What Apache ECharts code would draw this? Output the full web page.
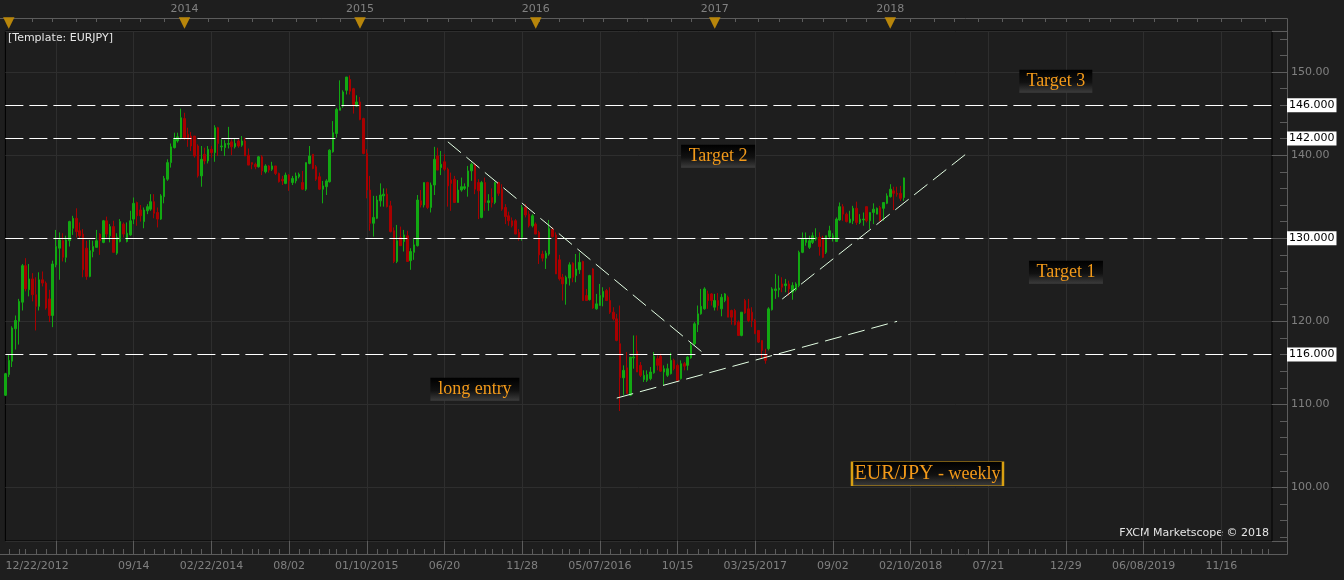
<!DOCTYPE html>
<html><head><meta charset="utf-8">
<script src="https://cdn.jsdelivr.net/npm/echarts@6/dist/echarts.min.js"></script>
<style>html,body{margin:0;padding:0;background:#1e1e1e;}#c{width:1344px;height:580px;}</style>
</head><body><div id="c"></div>
<script>
// ---------- data ----------
const startDate = [2012, 12, 22];   // first weekly bar
const weekCount = 376;              // weeks on the category axis
// weekly candles [open, high, low, close]
const candles = [
[111.1,113.8,111.0,113.7],[113.6,116.0,113.3,115.3],[115.2,119.4,114.5,119.2],[119.1,120.7,116.6,120.1],
[120.0,122.7,117.2,122.4],[122.3,126.9,121.3,126.7],[126.7,127.6,123.6,123.9],[123.8,126.9,123.0,125.1],
[125.1,125.8,122.4,123.2],[123.2,125.3,118.9,121.8],[121.8,125.9,121.3,125.0],[125.0,126.0,124.2,124.6],
[124.6,124.8,121.4,121.6],[122.7,123.8,119.9,120.7],[120.7,127.3,119.3,126.9],[126.8,131.0,126.5,129.0],
[128.8,130.7,125.0,129.8],[129.7,130.6,127.2,127.7],[127.7,130.3,127.1,129.8],[129.7,132.1,129.0,132.0],
[131.2,132.7,130.4,132.4],[132.4,133.6,130.1,130.8],[130.9,131.9,129.9,130.3],[130.5,131.1,125.3,126.2],
[128.8,129.7,125.0,125.4],[125.4,129.8,125.3,128.5],[128.4,129.7,127.7,129.0],[128.9,131.0,128.9,129.7],
[130.5,130.6,128.0,129.7],[129.5,132.2,129.4,132.1],[132.1,132.6,130.1,130.5],[130.3,131.7,129.5,131.4],
[131.4,132.1,128.3,128.3],[128.2,130.6,128.0,130.1],[129.6,132.3,129.5,132.0],[131.7,131.9,130.1,130.5],
[129.6,131.9,129.5,130.6],[130.4,133.3,130.3,132.1],[132.3,134.9,131.7,134.2],[134.3,134.4,131.5,132.7],
[133.4,134.0,132.0,132.7],[132.0,133.7,131.2,133.4],[133.3,134.1,132.9,133.8],[133.5,135.3,133.3,134.4],
[134.4,135.3,132.4,133.0],[133.1,133.7,131.3,132.3],[132.3,135.3,132.2,135.1],[135.0,137.5,134.2,137.2],
[137.1,139.5,136.9,139.1],[139.1,141.4,138.5,141.0],[140.9,142.7,140.8,141.9],[141.7,142.7,141.5,142.2],
[142.1,145.6,141.9,144.5],[144.4,145.1,141.8,142.1],[142.5,143.3,141.0,141.9],[142.3,142.8,140.5,141.1],
[142.3,142.3,139.7,139.9],[141.1,141.3,137.3,137.5],[137.5,141.1,136.2,139.5],[140.1,140.9,138.9,139.3],
[139.3,141.1,139.0,140.7],[140.7,141.1,139.7,140.3],[140.3,143.6,139.2,143.3],[143.3,143.4,139.9,141.4],
[141.0,141.9,140.5,141.1],[140.9,141.8,139.9,141.4],[141.3,143.4,140.8,141.4],[141.6,141.9,140.0,141.0],
[141.0,142.0,140.8,141.4],[141.7,141.9,140.9,141.1],[141.2,142.3,141.0,141.7],[141.7,142.1,139.9,139.9],
[140.0,140.8,138.8,138.8],[139.1,139.1,138.3,138.9],[138.9,139.1,138.3,138.6],[138.6,139.9,138.5,139.8],
[139.8,140.0,137.6,138.1],[138.0,138.9,137.8,138.7],[138.7,138.8,137.9,138.2],[138.3,139.2,138.1,138.7],
[138.7,138.7,137.6,137.8],[137.8,137.9,136.7,136.8],[137.1,137.5,136.4,136.9],[136.6,137.9,136.5,137.6],
[137.6,137.7,135.7,136.9],[136.7,137.5,136.4,137.2],[136.9,137.9,136.6,137.5],[137.4,137.9,137.2,137.7],
[136.7,138.1,135.8,135.9],[135.9,139.1,135.7,139.1],[139.0,141.1,138.9,139.9],[140.1,140.1,138.3,138.4],
[138.6,138.8,136.9,137.1],[137.4,137.9,135.8,135.9],[135.9,136.9,134.2,136.3],[136.2,137.1,135.2,136.9],
[136.8,140.7,136.7,140.6],[140.4,144.1,140.3,142.7],[142.6,145.7,142.1,145.5],[145.4,149.0,145.4,145.7],
[145.9,147.8,145.7,147.6],[147.8,149.4,147.3,149.4],[149.1,149.6,147.3,147.7],[148.0,148.1,145.0,146.1],
[145.9,147.2,145.8,146.4],[146.4,147.0,144.2,144.3],[144.4,144.5,140.1,140.2],[140.2,140.7,134.8,135.8],
[135.8,137.5,130.9,131.8],[131.8,135.1,130.2,132.5],[132.4,135.1,132.3,134.6],[134.5,136.6,133.8,135.2],
[135.1,136.0,133.8,135.3],[135.3,136.0,133.7,133.8],[133.9,134.5,130.7,130.8],[130.9,131.3,127.0,127.2],
[127.2,131.6,127.0,129.7],[130.1,131.4,129.1,129.1],[129.6,131.0,128.4,130.4],[130.3,130.9,127.2,127.2],
[127.3,128.8,126.2,128.4],[128.3,129.9,127.4,129.2],[129.1,135.2,129.0,134.6],[134.5,135.8,133.7,134.0],
[134.0,136.7,133.7,136.7],[136.7,136.8,133.5,133.7],[133.7,136.7,133.1,136.4],[136.4,141.0,135.2,139.5],
[139.9,140.9,138.2,138.2],[138.5,140.5,137.6,138.9],[139.2,140.1,138.1,138.3],[138.3,138.5,133.8,136.3],
[137.0,137.9,133.3,136.6],[137.1,137.5,134.3,134.3],[134.3,137.0,134.3,135.8],[135.8,137.3,135.6,136.2],
[136.0,136.6,135.8,136.2],[136.2,138.7,135.0,138.1],[138.1,139.1,136.9,138.9],[138.8,139.0,135.3,135.9],
[136.7,137.1,132.3,135.7],[132.5,136.9,132.4,136.7],[136.7,137.3,133.3,134.3],[134.3,135.3,133.3,134.5],
[134.9,136.0,133.7,134.3],[134.3,136.8,134.1,136.7],[136.7,136.8,135.1,135.4],[135.9,136.5,133.3,133.5],
[133.7,134.1,131.7,132.6],[132.7,133.2,131.5,132.1],[132.1,132.5,131.3,131.5],[132.1,132.3,130.5,130.5],
[130.7,131.1,129.7,130.1],[130.1,134.0,129.7,133.7],[133.7,134.1,132.5,132.8],[132.9,133.3,131.3,131.5],
[131.5,132.9,131.3,132.7],[131.7,131.9,130.5,130.5],[130.7,130.9,126.9,128.0],[128.1,128.5,127.2,127.6],
[127.6,128.5,126.3,128.2],[128.1,132.2,127.9,131.2],[131.1,131.3,130.1,130.2],[130.4,130.7,125.7,125.7],
[127.4,128.0,124.9,125.1],[125.3,125.7,122.5,124.5],[124.5,125.5,122.0,125.3],[125.2,127.1,124.3,126.8],
[127.0,127.1,124.7,125.3],[125.5,128.1,124.7,126.3],[126.2,128.3,125.7,127.1],[127.2,127.3,122.5,122.5],
[123.1,123.9,122.5,122.5],[122.6,125.6,122.5,125.5],[126.3,126.4,121.5,121.6],[121.5,123.3,121.4,122.1],
[121.9,124.5,121.9,123.1],[122.9,124.1,121.8,123.6],[123.7,123.9,122.5,122.5],[122.5,124.1,120.9,121.1],
[121.1,121.7,120.1,120.3],[120.3,120.9,117.6,117.7],[117.3,121.9,109.2,113.2],[113.2,114.7,111.1,114.1],
[114.4,116.3,111.3,111.3],[111.1,115.7,111.0,115.7],[115.6,118.3,114.3,115.7],[116.4,118.3,113.9,113.9],
[114.7,115.1,113.3,113.5],[113.0,114.1,112.7,113.5],[112.9,114.1,112.7,113.6],[113.1,114.5,112.9,113.9],
[113.8,116.3,113.7,115.8],[115.5,115.9,114.1,114.7],[115.8,116.1,113.9,114.0],[113.9,114.7,112.3,114.3],
[113.5,114.9,113.3,114.3],[113.7,116.2,113.6,115.3],[115.3,115.5,114.1,114.3],[114.7,114.9,112.8,112.9],
[113.1,115.3,113.0,114.9],[114.9,115.1,114.1,114.6],[114.7,115.8,114.1,115.7],[115.6,117.4,115.5,117.1],
[117.3,119.9,117.1,119.7],[119.6,121.9,118.7,120.9],[120.9,123.9,120.8,121.8],[121.5,124.1,121.4,123.9],
[123.3,123.7,121.5,122.5],[123.3,123.4,121.9,122.5],[121.7,123.3,121.3,122.5],[122.5,123.4,121.3,121.9],
[121.5,123.3,120.6,122.9],[122.5,123.4,122.3,123.3],[122.9,123.1,120.5,120.5],[121.3,121.4,119.6,120.5],
[121.3,121.5,119.5,119.6],[119.9,120.1,118.3,118.3],[118.3,121.1,118.2,121.1],[122.5,122.7,120.9,121.0],
[121.5,122.7,119.9,120.1],[121.1,121.7,119.3,120.1],[120.1,120.3,118.5,118.5],[118.9,118.9,117.4,117.5],
[117.7,117.7,115.5,116.5],[115.9,116.7,114.9,115.3],[116.7,121.7,116.5,121.5],[121.4,124.1,121.3,123.9],
[123.7,125.7,122.7,123.9],[123.8,125.5,122.9,124.0],[124.5,125.3,123.5,124.1],[124.3,125.1,123.5,124.5],
[124.5,124.9,123.1,123.9],[123.5,124.7,122.6,124.3],[123.8,124.7,123.6,124.5],[124.3,128.5,124.1,128.3],
[128.3,130.7,128.2,129.9],[129.5,130.7,129.1,129.9],[128.9,130.3,128.7,129.7],[129.5,130.7,129.3,130.3],
[129.9,131.2,129.7,130.1],[130.1,130.7,127.9,129.0],[129.9,130.3,127.6,127.7],[128.3,130.3,128.1,130.3],
[130.2,131.5,129.9,130.9],[130.0,130.6,129.6,130.3],[129.6,132.5,129.6,132.3],[132.2,134.3,132.1,133.8],
[133.8,134.1,132.1,132.9],[132.9,133.1,131.9,132.0],[131.9,133.3,131.8,132.3],[132.1,133.9,131.7,133.6],
[133.6,134.4,131.6,131.9],[131.9,132.9,131.7,132.3],[132.2,133.1,131.5,132.3],[133.8,133.8,131.9,132.1],
[132.1,133.1,131.1,133.1],[133.1,134.2,131.7,133.5],[132.9,133.7,132.9,133.6],[133.7,133.9,132.1,132.1],
[133.6,134.3,132.1,134.3],[134.2,135.4,134.1,135.1],[135.0,136.5,134.9,135.9],[135.7,136.2,133.4,135.4],
[135.4,136.2,135.0,135.3],[135.4,136.3,134.5,134.8],[134.9,137.3,134.5,137.263]
];
// bottom axis labels: [week index, text]
const bottomLabels = [[0,'12/22/2012'],[38,'09/14'],[61,'02/22/2014'],[84,'08/02'],[107,'01/10/2015'],
  [130,'06/20'],[153,'11/28'],[176,'05/07/2016'],[199,'10/15'],[222,'03/25/2017'],[245,'09/02'],
  [268,'02/10/2018'],[291,'07/21'],[314,'12/29'],[337,'06/08/2019'],[360,'11/16']];
const gridWeeks = [15,38,61,84,107,130,153,176,199,222,245,268,291,314,337,360];
// top axis year markers: [week index, text]
const yearMarks = [[1,''],[53,'2014'],[105,'2015'],[157,'2016'],[210,'2017'],[262,'2018']];
const levels = [146, 142, 130, 116];
const lastPrice = 137.263;
// trend lines: [[week, price],[week, price]]
const trendDown = [[131,141.6],[207,116.06]];
const trendLow  = [[181,110.76],[264,120.0]];
const trendHigh = [[230,122.68],[285,140.33]];
// annotations: [text, week, price, width, height]
const notes = [['Target 3',311,148.9,73,23],['Target 2',211,139.87,74,23],['Target 1',313.8,125.9,74,23],
  ['long entry',138.9,111.82,89,23]];
const titleNote = [['EUR/JPY',' - weekly'],273.4,101.65,151,24];

// ---------- chart ----------
const pad = n => (n < 10 ? '0' : '') + n;
const cats = [];
{ const d = new Date(Date.UTC(startDate[0], startDate[1]-1, startDate[2]));
  for (let i = 0; i < weekCount; i++) { const t = new Date(d.getTime() + i*7*86400000);
    cats.push(pad(t.getUTCMonth()+1)+'/'+pad(t.getUTCDate())+'/'+t.getUTCFullYear()); } }
const labelMap = new Map(bottomLabels);
const gridSet = new Set(gridWeeks);
const yearMap = new Map(yearMarks);
const minorBottom = new Set();
for (let k = -6; k < 140; k++) { const v = Math.round(15 + k*23/8); if (v >= 0 && v < weekCount) minorBottom.add(v); }
const minorTop = new Set();
for (let k = 0; k < 70; k++) { const v = Math.round(1 + k*52.18/8); if (v < weekCount) minorTop.add(v); }

const GRAY = '#5c5c5c', TXT = '#808080', GRID = '#2e2e2e';
const UP = '#12a812', DOWN = '#a80000';
const ORANGE = '#f39a1a';
const boxFill = () => new echarts.graphic.LinearGradient(0,0,0,1,[{offset:0,color:'#000000'},{offset:0.55,color:'#111111'},{offset:1,color:'#3c3c3c'}]);

const chart = echarts.init(document.getElementById('c'), null, {renderer:'canvas'});
const xBase = {type:'category', data:cats, boundaryGap:false, gridIndex:0};
const trendStyle = {color:'#e4ffe4', width:1, type:[17,7]};
const lineSeries = (pts) => ({type:'line', data:pts, showSymbol:false, symbol:'none', silent:true,
  lineStyle:trendStyle, z:5, animation:false});

chart.setOption({
  backgroundColor:'#1e1e1e',
  animation:false,
  textStyle:{fontFamily:'DejaVu Sans'},
  grid:{left:2, right:72, top:31, bottom:39, show:true, borderColor:'#000', borderWidth:1, backgroundColor:'#1e1e1e'},
  xAxis:[
    Object.assign({}, xBase, {position:'bottom', offset:13,
      axisLine:{show:false},
      axisTick:{show:true, inside:true, length:13, interval:(i)=>gridSet.has(i), lineStyle:{color:GRAY}},
      axisLabel:{show:true, interval:(i)=>labelMap.has(i), formatter:(v,i)=>labelMap.get(i)||'',
        color:TXT, fontSize:11, fontFamily:'DejaVu Sans', margin:7, alignMinLabel:'left'},
      splitLine:{show:true, interval:(i)=>gridSet.has(i), lineStyle:{color:GRID, width:1}}}),
    Object.assign({}, xBase, {position:'bottom', offset:13, axisLine:{show:false},
      axisTick:{show:true, inside:true, length:5, interval:(i)=>minorBottom.has(i), lineStyle:{color:GRAY}},
      axisLabel:{show:false}, splitLine:{show:false}}),
    Object.assign({}, xBase, {position:'top', offset:13, axisLine:{show:false},
      axisTick:{show:true, inside:true, length:4, interval:(i)=>minorTop.has(i), lineStyle:{color:GRAY}},
      axisLabel:{show:true, interval:(i)=>yearMap.has(i), formatter:(v,i)=>yearMap.get(i)||'',
        color:TXT, fontSize:11, fontFamily:'DejaVu Sans', margin:3}, splitLine:{show:false}}),
    Object.assign({}, xBase, {position:'top', offset:0, axisLine:{show:false}, axisTick:{show:false},
      axisLabel:{show:true, interval:(i)=>yearMap.has(i), formatter:()=>'\u25BC',
        color:'#b8860b', fontSize:15, fontFamily:'DejaVu Sans', margin:0}, splitLine:{show:false}})
  ],
  yAxis:{type:'value', position:'right', min:93.56, max:154.94, splitNumber:6, offset:15, scale:true,
    axisLine:{show:false},
    axisTick:{show:true, inside:true, length:15, lineStyle:{color:GRAY}},
    minorTick:{show:true, splitNumber:5, length:7, lineStyle:{color:GRAY}},
    axisLabel:{color:TXT, fontSize:11, fontFamily:'DejaVu Sans', margin:4, showMinLabel:false, showMaxLabel:false,
      formatter:(v)=> levels.indexOf(v) >= 0 ? '' : v.toFixed(2)},
    splitLine:{show:true, lineStyle:{color:GRID, width:1}}},
  series:[
    {type:'candlestick', xAxisIndex:0, data:candles.map(c=>[c[0],c[3],c[2],c[1]]), barWidth:2,
      itemStyle:{color:UP, color0:DOWN, borderColor:UP, borderColor0:DOWN, borderWidth:1},
      markLine:{silent:true, symbol:['none','none'], animation:false,
        data: levels.map(v=>({yAxis:v, lineStyle:{color:'#ffffff', width:1, type:[18,6]},
          label:{show:true, position:'end', distance:15, formatter:v.toFixed(3), color:'#000', backgroundColor:'#ffffff',
            padding:[2,2,1,2], fontSize:11, fontFamily:'DejaVu Sans'}}))
          .concat([{yAxis:lastPrice, lineStyle:{opacity:0},
            label:{show:true, position:'end', distance:15, formatter:lastPrice.toFixed(3), color:'#000', backgroundColor:'#3d9df5',
            padding:[2,2,1,2], fontSize:11, fontFamily:'DejaVu Sans'}}])},
      markPoint:{silent:true, animation:false,
        data: notes.map(n=>({coord:[n[1],n[2]], symbol:'rect', symbolSize:[n[3],n[4]],
          itemStyle:{color:boxFill()},
          label:{show:true, position:'inside', formatter:n[0], color:ORANGE, fontSize:18, fontFamily:'Liberation Serif'}}))
          .concat([{coord:[titleNote[1],titleNote[2]], symbol:'rect', symbolSize:[titleNote[3],titleNote[4]],
            itemStyle:{color:boxFill(), borderColor:'#d9a012', borderWidth:1},
            label:{show:true, position:'inside', formatter:'{a|'+titleNote[0][0]+'}{b|'+titleNote[0][1]+'}',
              rich:{a:{color:ORANGE, fontSize:20, fontFamily:'Liberation Serif'}, b:{color:ORANGE, fontSize:18, fontFamily:'Liberation Serif'}}}}])}
    },
    lineSeries(trendDown), lineSeries(trendLow), lineSeries(trendHigh)
  ],
  graphic:[
    {type:'polyline', shape:{points:[[0,18.5],[1287.5,18.5],[1287.5,554.5],[0,554.5]]}, style:{stroke:GRAY, fill:null, lineWidth:1}, silent:true},
    {type:'text', left:8, top:33, style:{text:'[Template: EURJPY]', fill:'#e6e6e6', font:'11px "DejaVu Sans"'}},
    {type:'text', right:75, top:528, style:{text:'FXCM Marketscope \u00A9 2018', fill:'#e6e6e6', font:'11px "DejaVu Sans"'}}
  ]
});
</script></body></html>
